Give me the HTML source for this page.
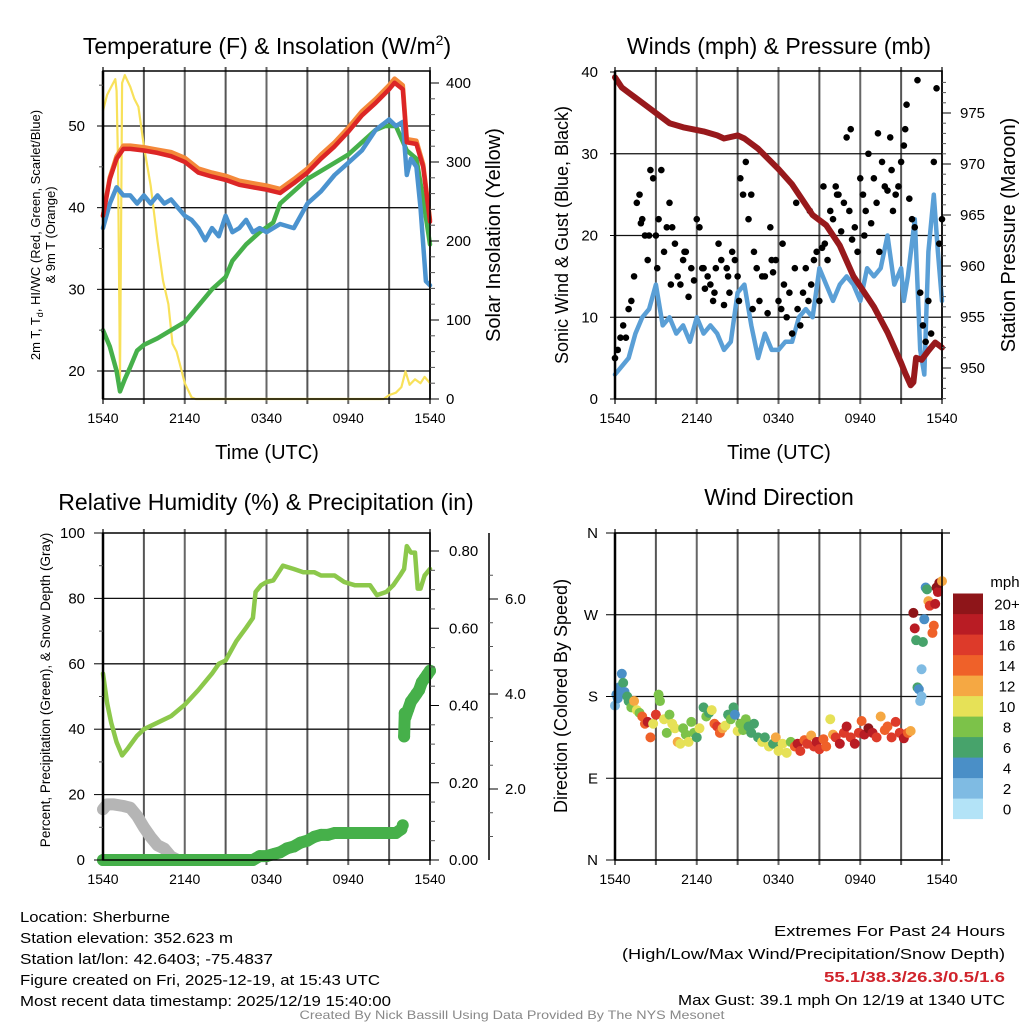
<!DOCTYPE html>
<html><head><meta charset="utf-8"><style>
html,body{margin:0;padding:0;background:#fff;overflow:hidden;}
svg{display:block;font-family:"Liberation Sans",sans-serif;}
</style></head><body>
<svg id="c" width="1024" height="1024" viewBox="0 0 1024 1024">
<g id="grid"></g>
<g id="marks"></g>
<g id="axes"></g>
<g id="texts">
<text x="267" y="54" font-size="23" text-anchor="middle">Temperature (F) &amp; Insolation (W/m<tspan font-size="14" dy="-9">2</tspan><tspan dy="9">)</tspan></text>
<text x="779" y="54" font-size="23" text-anchor="middle">Winds (mph) &amp; Pressure (mb)</text>
<text x="266" y="510" font-size="23" text-anchor="middle">Relative Humidity (%) &amp; Precipitation (in)</text>
<text x="779" y="505" font-size="23" text-anchor="middle">Wind Direction</text>
<text x="267" y="459" font-size="20" text-anchor="middle">Time (UTC)</text>
<text x="779" y="459" font-size="20" text-anchor="middle">Time (UTC)</text>
<text transform="translate(40,235) rotate(-90)" font-size="13" text-anchor="middle">2m T, T<tspan font-size="9" dy="3">d</tspan><tspan dy="-3">, HI/WC (Red, Green, Scarlet/Blue)</tspan></text>
<text transform="translate(55,235) rotate(-90)" font-size="13" text-anchor="middle">&amp; 9m T (Orange)</text>
<text transform="translate(500,235) rotate(-90)" font-size="20" text-anchor="middle">Solar Insolation (Yellow)</text>
<text transform="translate(568,235) rotate(-90)" font-size="18" text-anchor="middle">Sonic Wind &amp; Gust (Blue, Black)</text>
<text transform="translate(1015,235) rotate(-90)" font-size="20" text-anchor="middle">Station Pressure (Maroon)</text>
<text transform="translate(50,690) rotate(-90)" font-size="13.5" text-anchor="middle">Percent, Precipitation (Green), &amp; Snow Depth (Gray)</text>
<text transform="translate(567,696) rotate(-90)" font-size="18" text-anchor="middle">Direction (Colored By Speed)</text>
<text x="1005" y="587" font-size="15" text-anchor="middle">mph</text>
<g font-size="15">
<text x="20" y="922" textLength="150" lengthAdjust="spacingAndGlyphs">Location: Sherburne</text>
<text x="20" y="943" textLength="213" lengthAdjust="spacingAndGlyphs">Station elevation: 352.623 m</text>
<text x="20" y="964" textLength="253" lengthAdjust="spacingAndGlyphs">Station lat/lon: 42.6403; -75.4837</text>
<text x="20" y="985" textLength="360" lengthAdjust="spacingAndGlyphs">Figure created on Fri, 2025-12-19, at 15:43 UTC</text>
<text x="20" y="1006" textLength="371" lengthAdjust="spacingAndGlyphs">Most recent data timestamp: 2025/12/19 15:40:00</text>
</g>
<g font-size="15" text-anchor="end">
<text x="1005" y="936" textLength="231" lengthAdjust="spacingAndGlyphs">Extremes For Past 24 Hours</text>
<text x="1005" y="959" textLength="383" lengthAdjust="spacingAndGlyphs">(High/Low/Max Wind/Precipitation/Snow Depth)</text>
<text x="1005" y="982" fill="#d0232b" font-weight="bold" textLength="181" lengthAdjust="spacingAndGlyphs">55.1/38.3/26.3/0.5/1.6</text>
<text x="1005" y="1005" textLength="327" lengthAdjust="spacingAndGlyphs">Max Gust: 39.1 mph On 12/19 at 1340 UTC</text>
</g>
<text x="512" y="1019" font-size="12" fill="#888" text-anchor="middle" textLength="425" lengthAdjust="spacingAndGlyphs">Created By Nick Bassill Using Data Provided By The NYS Mesonet</text>
</g>
</svg>
<script>
// ---------- data ----------
const timeTicks = ["1540","2140","0340","0940","1540"];
const tempT = [0,0.5,1,1.5,2,3,4,5,6,7,8,9,10,11,12,13,14,15,16,17,18,19,20,21,21.4,22,22.3,23,23.5,24];
const tempV = [39,43.5,46,47.2,47.2,47,46.7,46.3,45.6,44.3,43.8,43.4,42.8,42.5,42.2,41.8,43,44.3,46,47.5,49.3,51.3,52.8,54.5,55.3,54.5,48,47.8,45,38.3];
const orangeOff = [0,0.2,0.3,0.4,0.4,0.4,0.4,0.5,0.5,0.5,0.5,0.5,0.5,0.5,0.5,0.5,0.5,0.5,0.5,0.5,0.5,0.5,0.5,0.5,0.5,0.5,0.4,0.4,0.3,0.2];
const hiT = [0,0.5,1,1.5,2,2.5,3,3.5,4,4.5,5,5.5,6,6.5,7,7.5,8,8.5,9,9.5,10,10.5,11,11.5,12,13,14,15,16,17,18,19,20,21,21.5,22,22.3,22.6,23,23.3,23.7,24];
const hiV = [37.5,40.5,42.5,41.5,41.5,40.5,41.5,40.5,41.5,40.5,41,40,39,38.5,37.5,36,37.5,36.5,39,37,37.5,38.5,37,37.5,37,38,37.5,40.5,42,44,45.5,47,49.5,50.8,50,50.5,44,46,45,40,31,30.5];
const dewT = [0,0.5,1,1.25,1.6,2,2.5,3,4,5,6,7,8,9,9.5,10.5,11.5,12.5,13,14,15,16,17,18,19,20,20.7,21.5,22.3,23,23.5,24];
const dewV = [25,23,20,17.5,19,20.5,22.5,23.2,24,25,26,28,30,31.5,33.5,35.5,37,38.2,40.5,42,43.5,44.5,45.5,46.5,48,49.5,50,50,47,46,41,35.5];
const solT = [0,0.3,0.6,0.9,1.0,1.1,1.25,1.4,1.6,2,2.3,2.6,3,3.5,4,4.4,4.8,5.1,5.4,5.7,6.0,6.5,6.8,20.6,21,21.5,21.9,22.2,22.5,22.9,23.3,23.6,24];
const solV = [365,385,395,405,390,300,25,400,410,395,380,370,320,270,200,150,120,70,60,40,20,2,0,0,5,8,15,35,18,25,20,28,20];
const windT = [0,0.5,1,1.5,2,2.5,3,3.5,4,4.5,5,5.5,6,6.5,7,7.5,8,8.5,9,9.5,10,10.5,11,11.5,12,12.5,13,13.5,14,14.5,15,15.5,16,16.5,17,17.5,18,18.5,19,19.5,20,20.5,21,21.2,21.5,22,22.4,22.7,23,23.4,23.7,24];
const windV = [3,4,5,8,10,11,14,9,10,8,9,7,10,8,9,8,6,7,13,14,9,5,8,6,6,7,7,10,11,10,16,14,12,14,15,14,12,16,15,16,20,14,16,12,15,22,6,3,18,25,18,12];
const gustT = [0,0.2,0.4,0.6,0.8,1.0,1.2,1.4,1.6,1.8,2.0,2.2,2.4,2.6,2.8,3.0,3.2,3.4,3.6,3.8,4.0,4.2,4.4,4.6,4.8,5.0,5.2,5.4,5.6,5.8,6.0,6.2,6.4,6.6,6.8,7.0,7.2,7.4,7.6,7.8,8.0,8.2,8.4,8.6,8.8,9.0,9.2,9.4,9.6,9.8,10.0,10.2,10.4,10.6,10.8,11.0,11.2,11.4,11.6,11.8,12.0,12.2,12.4,12.6,12.8,13.0,13.2,13.4,13.6,13.8,14.0,14.2,14.4,14.6,14.8,15.0,15.2,15.4,15.6,15.8,16.0,16.2,16.4,16.6,16.8,17.0,17.2,17.4,17.6,17.8,18.0,18.2,18.4,18.6,18.8,19.0,19.2,19.4,19.6,19.8,20.0,20.2,20.4,20.6,20.8,21.0,21.2,21.4,21.6,21.8,22.0,22.2,22.4,22.6,22.8,23.0,23.2,23.4,23.6,23.8,24.0,1.9,2.5,3.1,4.1,5.1,6.5,7.3,8.3,9.1,10.1,11.5,12.3,13.3,14.3,15.3,16.3,17.3,18.3,19.3,20.3,21.3,21.9,22.7,23.3,23.5];
const gustV = [5,6,7.5,9,7.5,11,12,15,24,25,22,20,17,28,27,20,22,28,18,21,24,21,19,15,14,17,18,12.5,16,14.5,22,21,16,13.5,15,14,12,16,19,17,11.5,16,13,18,17,15,27,25,29,22,25,18,16,12,15,15,10.5,21,15.5,17,12,11,14,10,13,8,16,11,9,13,16,12,14,17,18,12,18.5,19,17,23,22,26,25,20.5,24,32,23,19.5,21,18,27,25,23,30,21.5,27,24,18,29,26,25.5,32,23,25,26,29,31,36,24.5,22,21,39,13,9,7,12,8,29,38,19,22,21.5,20,16,14,18,16,13,15,12,11,17,19,24,23,26,25,33,20,32.5,28,33];
const presT = [0,0.5,1,1.5,2.5,3,4,5,6.5,7.5,8,9,9.5,10.5,12,13,13.5,14.5,15.5,16.5,17.5,19,20,21,21.3,21.7,21.9,22.1,22.5,23,23.5,24];
const presV = [978.5,977.5,977,976.5,975.5,975,974,973.6,973.2,972.8,972.5,972.8,972.5,971.5,969.5,968,967,965,964,962,959,956,953.5,950.5,949.5,948.3,948.6,951,950.8,951.7,952.5,952];
const rhT = [0,0.3,0.6,1,1.4,1.8,2.5,3,4,5,6,7,8,8.5,9,9.8,10.5,11,11.2,11.6,12,12.5,13.2,14,14.7,15.5,16,17,17.7,18.5,19,19.6,20.1,20.8,21.3,21.8,22.1,22.3,22.6,22.9,23.1,23.3,23.6,24];
const rhV = [57,48,42,36,32,34,38,40,42,44,47.5,52,57,60,61,67,71,74,82,84,85,85.5,90,89,88,88,87,87,85,84,84,84,81,82,84,87,89,96,94,94,83,83,87,89];
const precipT = [0,1,2,3,4,5,6,7,8,9,10,11,11.5,12,12.5,13,13.5,14,14.5,15,15.5,16,16.5,17,18,19,20,21,21.5,21.9,22,22.1,22.15,22.2,22.4,22.6,22.8,23,23.2,23.4,23.6,23.8,24];
const precipV = [0,0,0,0,0,0,0,0,0,0,0,0,0.01,0.01,0.015,0.02,0.03,0.035,0.045,0.05,0.06,0.065,0.065,0.07,0.07,0.07,0.07,0.07,0.07,0.08,0.09,0.32,0.38,0.37,0.39,0.41,0.42,0.43,0.44,0.46,0.47,0.48,0.49];
const snowT = [0,0.3,0.8,1.5,2,2.5,3,3.5,4,4.5,5,5.5,6];
const snowV = [15.5,17,17,16.5,16,13.5,10,7,4.5,3.5,1,0,0];
const dirT = [0,0.1,0.2,0.3,0.5,0.6,0.7,0.9,1.0,1.2,1.4,1.6,1.8,2.0,2.2,2.4,2.6,2.8,3.0,3.2,3.3,3.6,3.8,4.0,4.2,4.4,4.6,4.8,5.0,5.2,5.4,5.6,5.8,6.0,6.2,6.5,6.7,6.9,7.1,7.3,7.5,7.7,7.9,8.1,8.3,8.5,8.7,8.8,9.0,9.2,9.4,9.6,9.8,10.0,10.2,10.5,10.8,11.0,11.3,11.6,11.8,12.0,12.3,12.6,12.9,13.2,13.4,13.6,13.9,14.1,14.4,14.6,14.8,15.0,15.3,15.5,15.8,16.0,16.2,16.5,16.8,17.0,17.3,17.6,17.9,18.1,18.3,18.6,18.9,19.2,19.5,19.8,20.0,20.3,20.6,20.9,21.2,21.5,21.7,21.9,22.0,22.1,22.2,22.3,22.4,22.5,22.5,22.6,22.7,22.8,22.9,23.0,23.1,23.3,23.4,23.5,23.6,23.7,23.8,24.0];
const dirV = [170,182,178,190,205,195,185,180,175,168,175,165,162,158,150,152,135,150,160,182,175,155,140,160,150,145,130,128,145,138,130,152,140,135,145,168,158,162,165,150,147,140,145,148,160,155,168,160,142,150,143,155,147,140,150,135,130,135,125,128,135,120,128,118,130,125,128,120,132,128,137,125,130,122,133,125,155,138,135,128,140,147,135,128,140,153,138,145,140,135,158,143,147,135,152,140,134,140,142,272,255,242,190,188,175,180,210,240,265,300,298,285,280,250,258,282,300,295,305,307];
const dirS = [3,4,5,4,4,7,4,7,6,8,12,10,8,14,14,18,14,10,16,8,8,10,8,8,10,10,12,10,9,8,10,8,8,6,10,6,8,6,10,14,16,14,12,10,6,8,6,4,10,8,8,8,6,6,6,6,10,6,10,6,12,10,10,10,8,14,18,16,14,16,12,16,18,16,14,14,10,12,16,18,16,18,16,18,16,14,18,20,18,16,12,14,14,16,16,16,18,14,12,20,18,6,6,4,2,2,2,6,4,4,6,12,16,14,14,18,20,18,20,12];
const speedBins = ["0","2","4","6","8","10","12","14","16","18","20+"];
const binColors = ["#b3e3f7","#7fbbe3","#4a8fc7","#47a36b","#7cc249","#e6e157","#f5a843","#ef6129","#dd3a2a","#b91c24","#8e1519"];

// ---------- helpers ----------
const NS = "http://www.w3.org/2000/svg";
const G = document.getElementById("grid"), M = document.getElementById("marks"), A = document.getElementById("axes");
function mk(tag, attrs, parent){const e=document.createElementNS(NS,tag);for(const k in attrs)e.setAttribute(k,attrs[k]);parent.appendChild(e);return e;}
const X0L=103, X0R=615, W=327;
function xs(x0){return h=>x0+h*W/24;}
function lin(d0,d1,p0,p1){return v=>p0+(v-d0)*(p1-p0)/(d1-d0);}
function linePath(ts,vs,fx,fy){const n=Math.min(ts.length,vs.length);let d="";for(let i=0;i<n;i++){d+=(i?"L":"M")+fx(ts[i]).toFixed(1)+","+fy(vs[i]).toFixed(1);}return d;}
function frame(x0,yT,yB,hLines,fy){
  for(let i=0;i<=8;i++){const x=x0+i*W/8;
    const l=mk("line",{x1:x,x2:x,y1:yT-4,y2:yB+5,stroke:(i%2?"#555":"#666"),"stroke-width":2},G);
    
    }
  hLines.forEach(v=>{const y=fy(v);
    const l=mk("line",{x1:x0,x2:x0+W,y1:y,y2:y,stroke:"#111","stroke-width":1.3},G);
    
    });
  const b=mk("rect",{x:x0,y:yT,width:W,height:yB-yT,fill:"none",stroke:"#000","stroke-width":1.5},A);
  
  
  mk("line",{x1:x0,x2:x0,y1:yT,y2:yB,stroke:"#000","stroke-width":2.5},A);
  timeTicks.forEach((s,i)=>{const t=mk("text",{x:x0+i*W/4,y:yB+24,"font-size":14,"text-anchor":"middle"},A);t.textContent=s;
    
    });
}
function yTicks(vals,labels,fy,x,anchor,tickX1,tickX2,size){
  vals.forEach((v,i)=>{const y=fy(v);
    mk("line",{x1:tickX1,x2:tickX2,y1:y,y2:y,stroke:"#000","stroke-width":1},A);
    const t=mk("text",{x:x,y:y+5,"font-size":size||14,"text-anchor":anchor},A);t.textContent=labels[i];
    
    });
}
function minor(vals,fy,x1,x2){vals.forEach(v=>mk("line",{x1:x1,x2:x2,y1:fy(v),y2:fy(v),stroke:"#555","stroke-width":1},A));}
function drawLine(ts,vs,fx,fy,color,w,name){
  const p=mk("path",{d:linePath(ts,vs,fx,fy),fill:"none",stroke:color,"stroke-width":w,"stroke-linejoin":"round","stroke-linecap":"round"},M);
  
  
}
function dots(ts,vs,fx,fy,r,colorFn,name){
  const n=Math.min(ts.length,vs.length);
  for(let i=0;i<n;i++){const cx=fx(ts[i]),cy=fy(vs[i]);if(!isFinite(cx)||!isFinite(cy))continue;
    const c=mk("circle",{cx:cx,cy:cy,r:r,fill:colorFn(i)},M);
    
    }
}

// ---------- panel 1 ----------
{const fx=xs(X0L), fy=lin(20,50,371,126), fs=lin(0,400,399,83);
 frame(X0L,71,399,[20,30,40,50],fy);
 yTicks([20,30,40,50],["20","30","40","50"],fy,85,"end",97,103,15);
 minor([25,35,45,55],fy,99,103);
 yTicks([0,100,200,300,400],["0","100","200","300","400"],fs,446,"start",430,439,15);
 minor([20,40,60,80,120,140,160,180,220,240,260,280,320,340,360,380],fs,430,435);
 drawLine(solT,solV,fx,fs,"#f8e15a",2.2,"solar-insolation-line");
 drawLine(dewT,dewV,fx,fy,"#46b04a",4.5,"dewpoint-line");
 drawLine(hiT,hiV,fx,fy,"#4b93cf",4.5,"heat-index-windchill-line");
 drawLine(tempT,tempV.map((v,i)=>v+orangeOff[i]),fx,fy,"#f4893a",4.5,"9m-temperature-line");
 drawLine(tempT,tempV,fx,fy,"#dc2626",4.5,"2m-temperature-line");
}
// ---------- panel 2 ----------
{const fx=xs(X0R), fy=lin(0,40,399,72), fp=lin(950,975,368,113);
 frame(X0R,71,399,[10,20,30],fy);
 yTicks([0,10,20,30,40],["0","10","20","30","40"],fy,598,"end",610,615,15);
 yTicks([950,955,960,965,970,975],["950","955","960","965","970","975"],fp,960,"start",942,951,15);
 minor([947,948,949,951,952,953,954,956,957,958,959,961,962,963,964,966,967,968,969,971,972,973,974,976,977,978],fp,942,946);
 drawLine(windT,windV,fx,fy,"#5a9fd6",4.5,"sonic-wind-line");
 dots(gustT,gustV,fx,fy,3.3,()=>"#000","gust-dot");
 drawLine(presT,presV,fx,fp,"#98191c",6,"station-pressure-line");
}
// ---------- panel 3 ----------
{const fx=xs(X0L), fy=lin(0,100,860,533), fpr=lin(0,0.8,860,551), fsn=lin(2,6,789,599);
 frame(X0L,533,860,[20,40,60,80],fy);
 yTicks([0,20,40,60,80,100],["0","20","40","60","80","100"],fy,85,"end",94,103,15);
 minor([10,30,50,70,90],fy,99,103);
 yTicks([0,0.2,0.4,0.6,0.8],["0.00","0.20","0.40","0.60","0.80"],fpr,449,"start",430,439,15);
 minor([0.05,0.1,0.15,0.25,0.3,0.35,0.45,0.5,0.55,0.65,0.7,0.75],fpr,430,435);
 mk("line",{x1:489,x2:489,y1:533,y2:860,stroke:"#000","stroke-width":1.5},A);
 yTicks([2,4,6],["2.0","4.0","6.0"],fsn,505,"start",489,498,15);
 minor([1,1.5,2.5,3,3.5,4.5,5,5.5,6.5],fsn,489,493);
 drawLine(snowT,snowV,fx,fy,"#b5b5b5",12,"snow-depth-line");
 drawLine(rhT,rhV,fx,fy,"#8cc84b",4.5,"relative-humidity-line");
 dots(precipT,precipV,fx,fpr,6,()=>"#46b04a","precipitation-dot");
 drawLine(precipT.slice(0,30),precipV.slice(0,30),fx,fpr,"#46b04a",12,"precipitation-line");
 drawLine(precipT.slice(31),precipV.slice(31),fx,fpr,"#46b04a",12,"precipitation-line-late");
}
// ---------- panel 4 ----------
{const fx=xs(X0R), fy=lin(0,360,860,533);
 frame(X0R,533,860,[90,180,270],fy);
 mk("line",{x1:X0R,x2:X0R+W+8,y1:533,y2:533,stroke:"#000","stroke-width":1.3},A);
 mk("line",{x1:X0R,x2:X0R+W+8,y1:860,y2:860,stroke:"#000","stroke-width":1.3},A);
 yTicks([0,90,180,270,360],["N","E","S","W","N"],fy,598,"end",606,615,15);
 dots(dirT,dirV,fx,fy,5,i=>binColors[Math.min(10,Math.floor((dirS[i]||0)/2))],"wind-direction-dot");
 speedBins.forEach((s,i)=>{const y=819-(i+1)*20.5;
   const r=mk("rect",{x:953,y:y,width:30,height:20.6,fill:binColors[i]},A);
   
   
   const t=mk("text",{x:1007,y:y+16,"font-size":15,"text-anchor":"middle"},A);t.textContent=s;
   
   });
}
</script>
</body></html>
